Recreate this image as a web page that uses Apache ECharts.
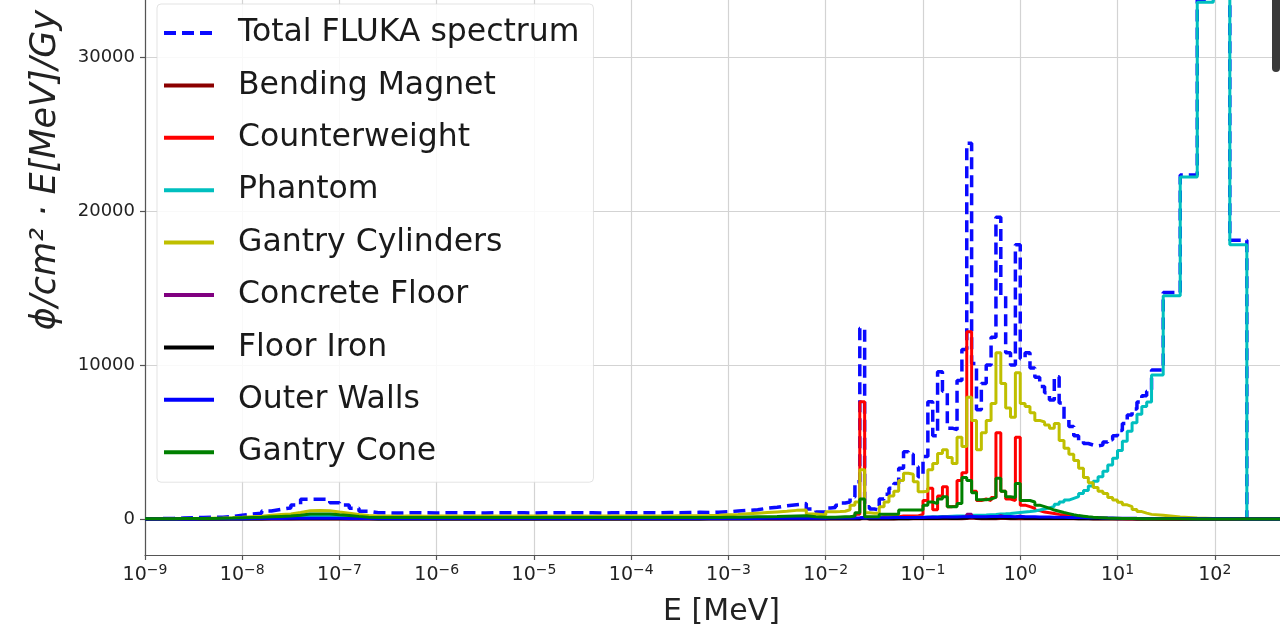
<!DOCTYPE html>
<html>
<head>
<meta charset="utf-8">
<title>Neutron fluence spectrum</title>
<script src="https://cdn.jsdelivr.net/npm/echarts@6/dist/echarts.min.js"></script>
<style>
  html, body { margin: 0; padding: 0; background: #ffffff; }
  #chart { width: 1280px; height: 635px; }
</style>
</head>
<body>
<div id="chart"></div>
<script>
// ---- Binning (log10 of energy in MeV) ----
// low-energy region: 0.1-decade bins from 1e-9 MeV, 70 bins
const lowEdgeStart = -9, lowEdgeStep = 0.1, lowBinCount = 70;
// resonance / evaporation region: 0.05-decade bins from 1e-2 MeV, 67 bins
const midEdgeStart = -2, midEdgeStep = 0.05, midBinCount = 67;
// high-energy bins (explicit edges, last edge closes the histogram)
const highEdgesLog10 = [1.35, 1.47, 1.645, 1.82, 1.985, 2.155, 2.33, 3.0];

// ---- Fluence per bin, phi/cm^2 * E[MeV]/Gy (low | mid | high) ----
const totalSpectrum = [
  20,30,40,60,80,100,110,120,150,240,
  325,370,520,630,720,910,1280,1290,1280,1060,
  910,700,500,400,400,390,400,410,400,390,
  400,410,400,400,390,400,410,400,400,390,
  400,410,400,400,410,400,390,400,410,400,
  400,410,400,420,410,420,430,420,440,470,
  520,560,600,700,760,860,930,1000,650,450,
  720,750,900,1040,1100,1430,2420,12380,800,650,
  580,1300,1600,2000,2300,3300,4370,4200,3400,2750,
  4050,7620,5400,9560,8300,5900,5800,9000,11000,24400,
  10100,7100,8800,10000,11800,19600,14500,10800,10000,17800,
  10400,10800,9800,9200,8600,8200,7730,9240,7530,6500,
  6000,5400,5100,4900,4800,4750,4800,5000,5150,5400,
  5750,6200,6750,7150,7600,8000,8300,
  9680,14700,22340,33700,42300,18100,0
];
const bendingMagnet = [
  1,1,1,1,2,2,2,2,3,3,
  3,4,4,5,5,6,6,6,6,5,
  5,4,4,4,4,4,4,4,4,4,
  4,4,4,4,4,4,4,4,4,4,
  4,4,4,4,4,4,4,4,4,4,
  4,4,4,4,4,4,4,4,4,4,
  4,4,5,5,5,5,6,6,5,5,
  3,3,4,4,4,5,6,30,5,5,
  6,6,7,7,8,8,9,10,10,11,
  14,22,16,20,22,16,16,20,28,60,
  25,20,20,21,22,40,26,22,21,36,
  20,18,17,16,15,14,13,12,11,10,
  10,9,8,8,7,7,6,6,5,5,
  4,4,3,3,3,2,2,
  2,1,1,1,0,0,0
];
const counterweight = [
  5,5,8,10,12,15,20,25,30,40,
  50,60,70,80,90,100,120,120,120,100,
  90,70,50,40,35,35,35,35,35,35,
  35,35,35,35,35,35,35,35,35,35,
  35,35,35,35,35,35,35,35,35,35,
  35,35,35,38,40,40,42,45,48,50,
  55,60,65,70,75,80,85,90,80,75,
  80,80,90,100,110,150,300,7620,120,100,
  100,150,150,150,150,200,200,200,200,300,
  1200,2000,600,1500,2100,800,900,2500,3000,12160,
  1800,1200,1300,1200,1400,5600,1800,1300,1200,5300,
  900,800,700,550,450,400,350,300,260,220,
  180,140,110,90,75,65,55,45,38,32,
  28,24,20,15,12,10,8,
  6,4,2,1,0,0,0
];
const phantom = [
  2,2,3,3,4,5,6,8,10,15,
  20,30,40,50,60,90,190,200,190,130,
  90,50,30,22,20,18,18,18,18,18,
  18,18,18,18,18,18,18,18,18,18,
  18,18,18,18,18,18,18,18,18,18,
  18,18,18,18,18,18,20,20,22,22,
  24,24,25,25,26,26,28,28,30,30,
  30,30,35,35,40,40,45,60,45,50,
  50,55,60,65,70,80,90,100,110,120,
  130,140,150,160,170,180,190,200,210,240,
  240,250,260,280,300,330,340,360,390,420,
  450,480,520,580,650,720,820,950,1100,1230,
  1340,1450,1650,1850,2150,2450,2750,3100,3500,3950,
  4450,5050,5700,6250,6800,7300,7600,
  9350,14500,22200,33550,42100,17800,0
];
const gantryCylinders = [
  10,15,20,25,30,40,50,60,80,110,
  150,180,240,290,330,420,540,550,530,450,
  380,290,220,195,190,185,190,190,185,190,
  190,190,185,190,190,190,185,190,190,190,
  190,185,190,190,190,185,190,190,190,190,
  190,195,195,200,205,210,215,220,240,270,
  300,340,380,420,460,500,560,580,320,260,
  470,470,480,500,600,900,1100,3200,400,380,
  380,800,1100,1500,1800,2500,2970,2900,2420,1770,
  1800,3200,3600,4260,4500,4000,3600,5300,4700,7900,
  6400,4500,5600,6400,7500,10800,8800,7200,6600,9500,
  7500,7300,6900,6400,6300,6100,5900,6200,5100,4600,
  4200,3800,3300,2700,2350,2050,1800,1650,1400,1230,
  1080,920,800,620,480,380,300,
  240,130,60,30,10,0,0
];
const concreteFloor = [
  1,1,2,2,3,4,5,6,8,10,
  12,15,18,20,22,25,30,30,28,25,
  22,20,18,15,15,15,15,15,15,15,
  15,15,15,15,15,15,15,15,15,15,
  15,15,15,15,15,15,15,15,15,15,
  15,15,15,15,16,16,16,17,17,18,
  18,18,20,20,22,22,24,24,22,22,
  25,25,28,30,30,32,40,120,35,35,
  38,40,42,45,48,50,55,60,62,65,
  80,120,90,110,120,90,90,110,150,300,
  130,110,110,115,120,220,140,120,115,200,
  110,100,95,90,85,80,75,70,65,60,
  55,50,45,40,36,33,30,27,25,22,
  20,18,16,14,12,10,9,
  8,6,4,3,2,1,0
];
const floorIron = [
  1,1,1,1,2,2,3,3,4,5,
  6,7,8,9,10,12,14,14,13,12,
  10,9,8,7,7,7,7,7,7,7,
  7,7,7,7,7,7,7,7,7,7,
  7,7,7,7,7,7,7,7,7,7,
  7,7,7,7,7,7,7,8,8,8,
  8,8,9,9,10,10,11,11,10,10,
  10,10,12,12,13,14,18,60,15,15,
  16,17,18,19,20,22,24,26,27,28,
  35,55,40,50,55,40,40,50,70,140,
  60,50,50,52,55,100,65,55,52,90,
  50,45,42,40,38,36,34,32,30,28,
  26,24,22,20,18,16,14,13,12,11,
  10,9,8,7,6,5,4,
  4,3,2,1,1,0,0
];
const outerWalls = [
  2,3,4,5,6,8,10,12,15,20,
  25,30,35,40,45,50,55,55,50,45,
  40,35,30,30,30,30,30,30,30,30,
  30,30,30,30,30,30,30,30,30,30,
  30,30,30,30,30,30,30,30,30,30,
  30,30,30,30,30,30,30,30,32,33,
  35,40,40,45,50,50,55,60,55,55,
  60,60,65,65,70,70,75,90,75,80,
  80,85,85,90,90,95,95,100,100,105,
  110,115,120,125,130,130,135,140,140,160,
  150,150,150,155,155,170,160,155,150,165,
  150,145,140,135,130,125,120,115,110,105,
  100,95,90,85,80,75,70,65,60,55,
  50,48,45,42,40,38,35,
  30,25,20,15,10,5,0
];
const gantryCone = [
  10,15,20,25,30,35,40,50,60,80,
  100,120,150,170,190,240,320,330,320,270,
  230,170,120,100,95,95,95,95,95,95,
  95,95,95,95,95,95,95,95,95,95,
  95,95,95,95,95,95,95,95,95,95,
  95,95,95,95,95,95,95,100,100,110,
  120,130,140,150,160,180,200,210,150,120,
  120,120,130,140,150,200,400,1300,150,150,
  150,300,300,300,300,580,580,580,580,580,
  900,1100,1000,1300,1450,800,800,1000,2700,2500,
  1700,1250,1250,1300,1400,2650,1800,1450,1400,2300,
  1200,1200,1100,900,800,700,580,500,420,350,
  280,220,180,140,110,90,75,60,50,45,
  40,35,30,25,20,18,15,
  12,8,5,3,2,1,0
];

const yTickValues = [0, 10000, 20000, 30000, 40000];

// ---- Bin edges ----
const edgesLog10 = [];
for (let i = 0; i < lowBinCount; i++) edgesLog10.push(lowEdgeStart + lowEdgeStep * i);
for (let i = 0; i < midBinCount; i++) edgesLog10.push(midEdgeStart + midEdgeStep * i);
highEdgesLog10.forEach(e => edgesLog10.push(e));

// histogram -> step polyline points [E, value]
function histogram(values) {
  const pts = values.map((v, i) => [Math.pow(10, edgesLog10[i]), v]);
  pts.push([Math.pow(10, edgesLog10[values.length]), values[values.length - 1]]);
  return pts;
}

const seriesDefs = [
  { name: 'Total FLUKA spectrum', values: totalSpectrum, color: '#0a0aff', width: 3.5, dashed: true },
  { name: 'Bending Magnet', values: bendingMagnet, color: '#8b0000' },
  { name: 'Counterweight', values: counterweight, color: '#ff0000' },
  { name: 'Phantom', values: phantom, color: '#00bfbf' },
  { name: 'Gantry Cylinders', values: gantryCylinders, color: '#bfbf00' },
  { name: 'Concrete Floor', values: concreteFloor, color: '#800080' },
  { name: 'Floor Iron', values: floorIron, color: '#000000' },
  { name: 'Outer Walls', values: outerWalls, color: '#0000ff' },
  { name: 'Gantry Cone', values: gantryCone, color: '#008000' }
];

const FONT = 'DejaVu Sans';
const MINUS = '\u2212';

const chart = echarts.init(document.getElementById('chart'), null, { renderer: 'canvas' });

chart.setOption({
  animation: false,
  backgroundColor: '#ffffff',
  grid: { left: 145, right: -32, top: -215, bottom: 80, outerBoundsMode: 'none', containLabel: false },
  legend: {
    orient: 'vertical',
    left: 157,
    top: 4,
    padding: [11, 14, 12, 5],
    itemWidth: 50,
    itemHeight: 14,
    itemGap: 16.4,
    selectedMode: false,
    backgroundColor: 'rgba(255,255,255,0.85)',
    borderColor: 'rgba(215,215,215,0.7)',
    borderWidth: 1,
    borderRadius: 4,
    itemStyle: { color: 'rgba(0,0,0,0)', borderWidth: 0, opacity: 0 },
    lineStyle: { width: 4 },
    textStyle: {
      fontFamily: FONT, fontSize: 31.5, color: '#1a1a1a',
      lineHeight: 36, padding: [0, 0, 0, 19]
    },
    data: seriesDefs.map(s => s.name)
  },
  xAxis: {
    type: 'log',
    logBase: 10,
    min: 1e-9,
    max: 1e3,
    interval: 1,
    axisLine: { show: true, onZero: false, lineStyle: { color: '#555555', width: 1.2 } },
    axisTick: { show: true, length: 5, lineStyle: { color: '#555555', width: 1.2 } },
    minorTick: { show: false },
    splitLine: { show: true, lineStyle: { color: '#d3d3d3', width: 1.2 } },
    axisLabel: {
      margin: 8,
      color: '#222222',
      fontFamily: FONT,
      fontSize: 19,
      lineHeight: 25,
      formatter: function (v) {
        const e = Math.round(Math.log10(v));
        return '10{sup|' + (e < 0 ? MINUS + (-e) : e) + '}';
      },
      rich: {
        sup: { fontFamily: FONT, fontSize: 14, lineHeight: 15, verticalAlign: 'top', color: '#222222' }
      }
    },
    name: 'E [MeV]',
    nameLocation: 'middle',
    nameGap: 42,
    nameTextStyle: { fontFamily: FONT, fontSize: 30, color: '#222222', padding: [0, 14, 0, 0] }
  },
  yAxis: {
    type: 'value',
    min: -2338,
    max: 47662,
    axisLine: { show: true, lineStyle: { color: '#555555', width: 1.2 } },
    axisTick: { show: true, length: 5, customValues: yTickValues, lineStyle: { color: '#555555', width: 1.2 } },
    splitLine: { show: true, lineStyle: { color: '#d3d3d3', width: 1.2 } },
    axisLabel: {
      customValues: yTickValues,
      margin: 10,
      color: '#222222',
      fontFamily: FONT,
      fontSize: 18,
      formatter: function (v) { return String(v); }
    },
    name: '\u03d5/cm\u00b2 \u00b7 E[MeV]/Gy',
    nameLocation: 'middle',
    nameGap: 82,
    nameTextStyle: { fontFamily: FONT, fontSize: 35, fontStyle: 'italic', color: '#222222' }
  },
  series: seriesDefs.map(s => ({
    name: s.name,
    type: 'line',
    step: 'end',
    data: histogram(s.values),
    symbol: 'none',
    showSymbol: false,
    clip: true,
    emphasis: { disabled: true },
    itemStyle: { color: s.color },
    lineStyle: {
      color: s.color,
      width: s.width || 3,
      type: s.dashed ? [12, 6] : 'solid'
    }
  })),
  graphic: [{
    type: 'rect',
    right: 0,
    top: -8,
    shape: { width: 8, height: 80, r: 4 },
    style: { fill: '#3a3a3a' },
    z: 100
  }]
});
</script>
</body>
</html>
